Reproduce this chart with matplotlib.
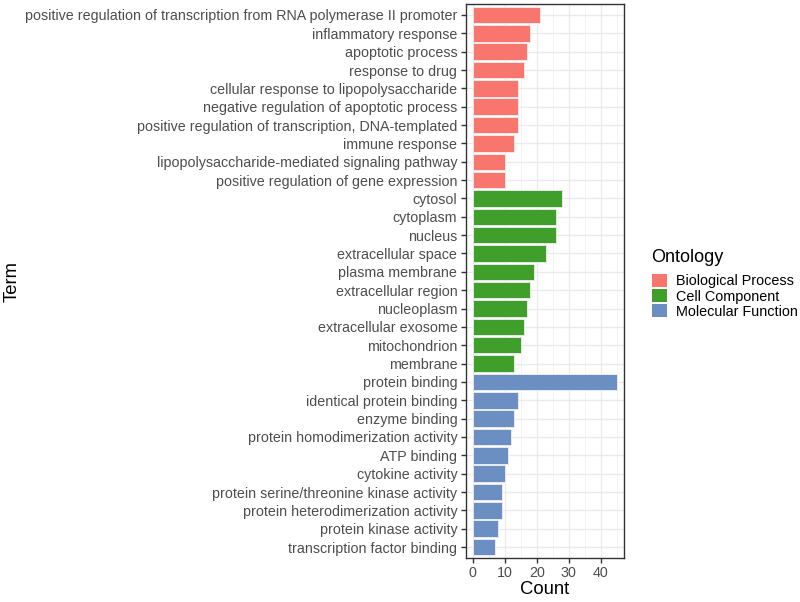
import matplotlib
matplotlib.use("Agg")
import matplotlib.pyplot as plt
from matplotlib.patches import Patch
from matplotlib.ticker import MultipleLocator

plt.rcParams['font.family'] = ['Liberation Sans', 'DejaVu Sans']

bp_terms = ["positive regulation of transcription from RNA polymerase II promoter",
            "inflammatory response", "apoptotic process", "response to drug",
            "cellular response to lipopolysaccharide",
            "negative regulation of apoptotic process",
            "positive regulation of transcription, DNA-templated",
            "immune response", "lipopolysaccharide-mediated signaling pathway",
            "positive regulation of gene expression"]
bp_counts = [21, 18, 17, 16, 14, 14, 14, 13, 10, 10]

cc_terms = ["cytosol", "cytoplasm", "nucleus", "extracellular space", "plasma membrane",
            "extracellular region", "nucleoplasm", "extracellular exosome",
            "mitochondrion", "membrane"]
cc_counts = [28, 26, 26, 23, 19, 18, 17, 16, 15, 13]

mf_terms = ["protein binding", "identical protein binding", "enzyme binding",
            "protein homodimerization activity", "ATP binding", "cytokine activity",
            "protein serine/threonine kinase activity",
            "protein heterodimerization activity", "protein kinase activity",
            "transcription factor binding"]
mf_counts = [45, 14, 13, 12, 11, 10, 9, 9, 8, 7]

ontologies = ["Biological Process", "Cell Component", "Molecular Function"]
colors = ["#F8766D", "#3F9F2A", "#6C8FC3"]

fig = plt.figure(figsize=(8, 6.02), dpi=100)
ax = fig.add_axes([0.582, 0.073, 0.198, 0.9204])

terms = bp_terms + cc_terms + mf_terms
counts = bp_counts + cc_counts + mf_counts
cols = [colors[0]] * len(bp_terms) + [colors[1]] * len(cc_terms) + [colors[2]] * len(mf_terms)
n = len(terms)
ypos = list(range(n, 0, -1))

ax.barh(ypos, counts, height=0.9, color=cols, edgecolor="#F0F0F0", linewidth=0.6, zorder=3)

ax.set_ylim(0.4, n + 0.6)
ax.set_xlim(-2.25, 47.25)
ax.set_yticks(ypos)
ax.set_yticklabels(terms)
ax.xaxis.set_major_locator(MultipleLocator(10))
ax.xaxis.set_minor_locator(MultipleLocator(5))
ax.set_xticks([0, 10, 20, 30, 40])

ax.grid(which="major", color="#EBEBEB", linewidth=1.0, zorder=0)
ax.grid(which="minor", axis="x", color="#F3F3F3", linewidth=0.6, zorder=0)
ax.set_axisbelow(True)
for s in ax.spines.values():
    s.set_color("#333333")
    s.set_linewidth(1.0)
ax.tick_params(axis="both", which="major", colors="#333333", labelcolor="#4D4D4D",
               labelsize=10.3, length=3.5, width=1.0)
ax.tick_params(axis="y", pad=2.5)
ax.tick_params(axis="x", pad=2)
ax.tick_params(axis="x", which="minor", length=0)

ax.set_xlabel("Count", fontsize=13.3, color="black", labelpad=1)
fig.text(0.015, 0.533, "Term", rotation=90, fontsize=13.3, ha="center", va="center")

handles = [Patch(facecolor=c, edgecolor="none") for c in colors]
leg = fig.legend(handles, ontologies, loc="upper left", bbox_to_anchor=(0.8145, 0.587),
                 frameon=False, title="Ontology", fontsize=10.4, title_fontsize=13,
                 handlelength=1.05, handleheight=1.0, labelspacing=0.05,
                 handletextpad=0.65, borderaxespad=0, borderpad=0)
leg._legend_box.align = "left"
leg._legend_box.sep = 6

fig.savefig("out.png", dpi=100)
